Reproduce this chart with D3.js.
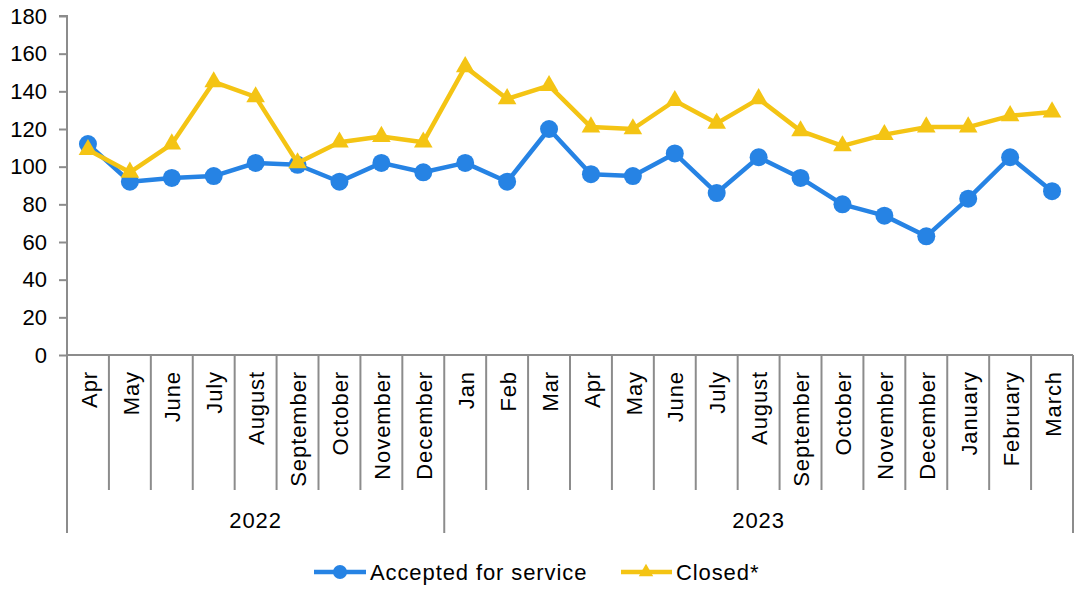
<!DOCTYPE html>
<html>
<head>
<meta charset="utf-8">
<script src="https://cdn.jsdelivr.net/npm/d3@7"></script>
<style>
  html, body { margin: 0; padding: 0; background: #fff; }
  svg { display: block; font-family: "Liberation Sans", Arial, sans-serif; }
</style>
</head>
<body>
<svg id="chart" width="1076" height="589"></svg>
<script>
const months = ["Apr","May","June","July","August","September","October","November","December",
  "Jan","Feb","Mar","Apr","May","June","July","August","September","October","November","December","January","February","March"];
const years = ["2022","2023"];
const yearCounts = [9, 15];
const accepted = [112,92,94,95,102,101,92,102,97,102,92,120,96,95,107,86,105,94,80,74,63,83,105,87];
const closed   = [109,97,112,145,137,102,113,116,113,153,136,143,121,120,135,123,136,119,111,117,121,121,127,129];
const yTicks = [0,20,40,60,80,100,120,140,160,180];
const seriesNames = ["Accepted for service","Closed*"];

const blue = "#2683e4", yellow = "#f4c414", axisCol = "#8c8c8c";
const svg = d3.select("#chart");
const mLeft = 67, mRight = 1073, mTop = 16, mBottom = 355;

const idx = months.map((d,i)=>i);
const x = d3.scaleBand().domain(idx).range([mLeft, mRight]).padding(0);
const y = d3.scaleLinear().domain([0,180]).range([mBottom, mTop]);

// Y axis
const yAxis = svg.append("g").attr("transform", `translate(${mLeft},0)`)
  .call(d3.axisLeft(y).tickValues(yTicks).tickSize(8).tickPadding(12));
yAxis.select(".domain").attr("stroke", axisCol).attr("stroke-width", 2).attr("d", `M-8,${mTop}H0V${mBottom}`);
yAxis.selectAll(".tick line").attr("stroke", axisCol).attr("stroke-width", 2);
yAxis.selectAll(".tick text").attr("font-size", 22).attr("fill", "#000")
  .attr("font-family", '"Liberation Sans", Arial, sans-serif');

// X axis baseline
svg.append("line").attr("x1", mLeft).attr("x2", mRight).attr("y1", mBottom).attr("y2", mBottom)
  .attr("stroke", axisCol).attr("stroke-width", 2);

// category separators
const g = svg.append("g");
let cum = 0;
const yearBounds = [0];
yearCounts.forEach(c => { cum += c; yearBounds.push(cum); });
for (let i = 0; i <= months.length; i++) {
  const xp = i < months.length ? x(i) : x(months.length-1) + x.bandwidth();
  const isYear = yearBounds.includes(i);
  g.append("line").attr("x1", xp).attr("x2", xp).attr("y1", mBottom).attr("y2", isYear ? 533 : 490)
    .attr("stroke", axisCol).attr("stroke-width", 2);
}
// month labels
svg.append("g").selectAll("text").data(months).join("text")
  .attr("transform", (d,i)=>`translate(${x(i)+x.bandwidth()/2+1},371) rotate(-90)`)
  .attr("text-anchor", "end").attr("dy", "0.35em")
  .attr("font-size", 22).attr("letter-spacing", "0.9px").attr("fill", "#000")
  .text(d=>d);
// year labels
svg.append("g").selectAll("text").data(years).join("text")
  .attr("x", (d,i)=> {
    const a = x(yearBounds[i]);
    const bEnd = yearBounds[i+1] < months.length ? x(yearBounds[i+1]) : mRight;
    return (a + bEnd)/2;
  })
  .attr("y", 528).attr("text-anchor", "middle")
  .attr("font-size", 22).attr("letter-spacing", "0.9px").attr("fill", "#000")
  .text(d=>d);

const cx = i => x(i) + x.bandwidth()/2;
const line = d3.line().x((d,i)=>cx(i)).y(d=>y(d));

// Accepted
svg.append("path").datum(accepted).attr("d", line).attr("fill", "none")
  .attr("stroke", blue).attr("stroke-width", 4.5).attr("stroke-linejoin", "round");
svg.append("g").selectAll("circle").data(accepted).join("circle")
  .attr("cx", (d,i)=>cx(i)).attr("cy", d=>y(d)).attr("r", 9).attr("fill", blue);

// Closed
svg.append("path").datum(closed).attr("d", line).attr("fill", "none")
  .attr("stroke", yellow).attr("stroke-width", 4.5).attr("stroke-linejoin", "round");
const tri = d3.symbol().type(d3.symbolTriangle).size(150);
svg.append("g").selectAll("path").data(closed).join("path")
  .attr("d", tri).attr("transform", (d,i)=>`translate(${cx(i)},${y(d)})`).attr("fill", yellow);

// Legend
const lg = svg.append("g");
const ly = 572;
lg.append("line").attr("x1", 314).attr("x2", 366).attr("y1", ly).attr("y2", ly)
  .attr("stroke", blue).attr("stroke-width", 4.5);
lg.append("circle").attr("cx", 340).attr("cy", ly).attr("r", 7).attr("fill", blue);
lg.append("text").attr("x", 370).attr("y", ly).attr("dy", "0.35em").attr("font-size", 22)
  .attr("letter-spacing", "0.9px").attr("fill", "#000").text(seriesNames[0]);
lg.append("line").attr("x1", 621).attr("x2", 672).attr("y1", ly).attr("y2", ly)
  .attr("stroke", yellow).attr("stroke-width", 4.5);
lg.append("path").attr("d", d3.symbol().type(d3.symbolTriangle).size(90))
  .attr("transform", `translate(646,${ly})`).attr("fill", yellow);
lg.append("text").attr("x", 676).attr("y", ly).attr("dy", "0.35em").attr("font-size", 22)
  .attr("letter-spacing", "0.9px").attr("fill", "#000").text(seriesNames[1]);
</script>
</body>
</html>
